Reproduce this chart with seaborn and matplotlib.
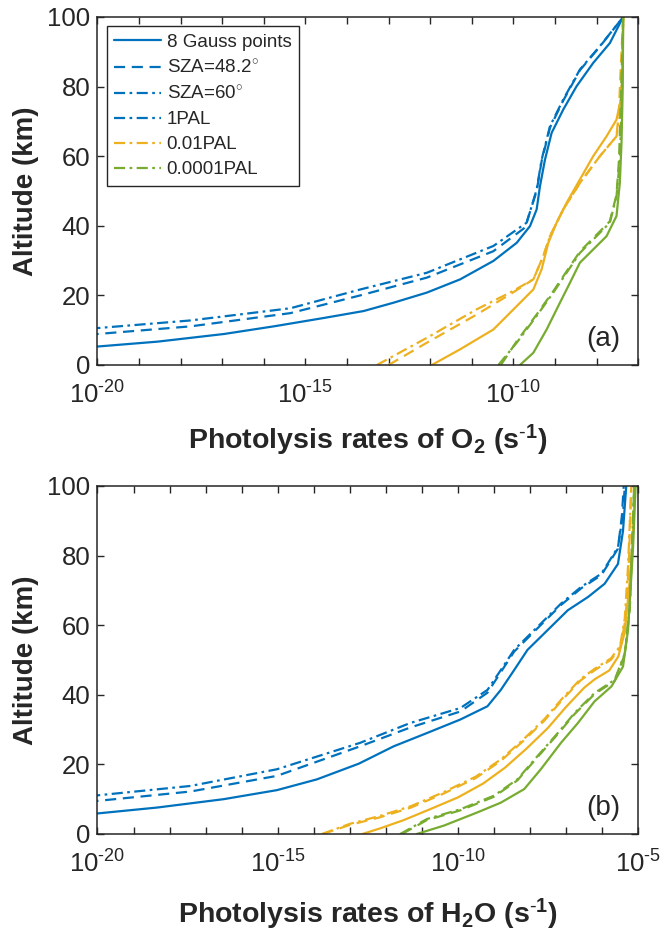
import matplotlib
matplotlib.use("Agg")
import matplotlib.pyplot as plt
import matplotlib.ticker as mticker
from matplotlib.lines import Line2D
from matplotlib.mathtext import MathTextParser
import numpy as np
import pandas as pd
import seaborn as sns

# ---- data: log10 photolysis rate (s^-1) vs altitude (km) ----
# panel (a) O2
o2_1pal_gauss_alt = [0, 5.3, 6.7, 8.9, 11.1, 13.5, 15.5, 17.9, 20.8, 24.6, 29.9, 35.1, 39.9, 44.7, 51.4, 59, 66.7, 73.4, 80.1, 86.8, 92.5, 100]
o2_1pal_gauss_log = [-25, -20, -18.56, -16.96, -15.76, -14.56, -13.6, -12.88, -12.08, -11.28, -10.48, -9.92, -9.6, -9.44, -9.36, -9.24, -9.08, -8.8, -8.48, -8.08, -7.68, -7.36]
o2_1pal_sza48_alt = [0, 8.9, 11.1, 14.9, 20.0, 25.1, 32.7, 39.5, 50.0, 58.6, 68.2, 76.0, 84.7, 91.5, 100]
o2_1pal_sza48_log = [-29, -20, -17.76, -15.36, -13.68, -12.08, -10.48, -9.72, -9.44, -9.32, -9.12, -8.8, -8.4, -7.92, -7.36]
o2_1pal_sza60_alt = [0, 10.6, 12.8, 16.3, 21.7, 26.5, 34.2, 40.9, 50.4, 59, 68.6, 76.3, 84.9, 91.6, 100]
o2_1pal_sza60_log = [-30, -20, -17.76, -15.36, -13.68, -12.08, -10.48, -9.68, -9.44, -9.32, -9.12, -8.8, -8.4, -7.92, -7.36]

o2_001pal_gauss_alt = [0, 4.5, 10.2, 16.9, 21.7, 27.5, 35.1, 40.9, 46.6, 53.3, 60, 65.7, 70.5, 77.2, 88, 100]
o2_001pal_gauss_log = [-11.96, -11.28, -10.48, -9.92, -9.52, -9.32, -9.16, -8.96, -8.72, -8.4, -8.08, -7.76, -7.52, -7.4, -7.37, -7.36]
o2_001pal_sza48_alt = [0, 6.4, 14.5, 20.3, 24.6, 31.3, 37, 44.7, 52.3, 60, 65.7, 73.4, 85, 100]
o2_001pal_sza48_log = [-13.0, -12.08, -10.88, -10.08, -9.52, -9.28, -9.12, -8.8, -8.4, -7.92, -7.52, -7.46, -7.42, -7.36]
o2_001pal_sza60_alt = [0, 7.8, 16, 20.8, 24.6, 31.3, 37, 44.7, 52.3, 60, 65.7, 73.4, 85, 100]
o2_001pal_sza60_log = [-13.28, -12.08, -10.88, -10.08, -9.52, -9.28, -9.12, -8.8, -8.4, -7.92, -7.52, -7.42, -7.38, -7.36]

o2_00001pal_gauss_alt = [0, 3.5, 10.2, 17.9, 23.6, 29.4, 33.2, 37, 42.8, 52.3, 63.8, 80, 100]
o2_00001pal_gauss_log = [-9.84, -9.52, -9.2, -8.88, -8.64, -8.4, -8.08, -7.76, -7.52, -7.44, -7.4, -7.37, -7.36]
o2_00001pal_sza48_alt = [0, 6.8, 14.5, 21.2, 26.9, 32.6, 37.4, 41.3, 48.9, 59, 73.4, 100]
o2_00001pal_sza48_log = [-10.3, -9.92, -9.44, -9.04, -8.72, -8.4, -8.0, -7.68, -7.52, -7.46, -7.42, -7.36]
o2_00001pal_sza60_alt = [0, 6.4, 14.1, 20.8, 26.5, 32.2, 37, 40.9, 48.5, 59, 73.4, 100]
o2_00001pal_sza60_log = [-10.36, -9.92, -9.44, -9.04, -8.72, -8.4, -8.0, -7.68, -7.52, -7.44, -7.4, -7.36]

# panel (b) H2O
h2o_1pal_gauss_alt = [0, 5.9, 7.6, 10, 12.6, 15.7, 20.2, 25.2, 29, 32.9, 36.7, 41.4, 47.1, 52.9, 58.6, 64.3, 68.1, 71.9, 77.6, 87.1, 100]
h2o_1pal_gauss_log = [-26, -20, -18.34, -16.5, -15.02, -13.91, -12.75, -11.78, -10.86, -9.93, -9.18, -8.81, -8.44, -8.07, -7.51, -6.95, -6.39, -5.93, -5.56, -5.42, -5.33]
h2o_1pal_sza48_alt = [0, 9.5, 12.2, 16.7, 25.2, 30.6, 35.2, 40.6, 46.5, 52.4, 58.2, 65.8, 70.6, 74.4, 82, 91.5, 100]
h2o_1pal_sza48_log = [-29, -20, -17.42, -15.02, -12.71, -11.32, -9.93, -9.18, -8.81, -8.44, -7.88, -7.14, -6.58, -6.02, -5.56, -5.45, -5.4]
h2o_1pal_sza60_alt = [0, 11.1, 13.8, 18.6, 26.2, 31.9, 36.2, 41.4, 47.1, 52.9, 58.6, 66.2, 71, 74.8, 82.4, 91.9, 100]
h2o_1pal_sza60_log = [-30, -20, -17.42, -15.02, -12.71, -11.32, -9.93, -9.18, -8.81, -8.44, -7.88, -7.14, -6.58, -6.02, -5.56, -5.42, -5.37]

h2o_001pal_gauss_alt = [0, 1.6, 4, 7, 10.5, 14.5, 19, 24.5, 30.5, 36.5, 42, 44.5, 47, 51, 58, 73, 87, 100]
h2o_001pal_gauss_log = [-12.65, -12.16, -11.5, -10.8, -10.0, -9.3, -8.7, -8.1, -7.5, -7.0, -6.5, -6.2, -5.8, -5.55, -5.37, -5.23, -5.14, -5.09]
h2o_001pal_sza48_alt = [0, 2.6, 4.8, 7.6, 11.6, 16.1, 21.1, 26.6, 32.6, 38.6, 44.1, 47.1, 50.1, 53.6, 61.6, 77, 100]
h2o_001pal_sza48_log = [-13.75, -13.0, -12.16, -11.3, -10.4, -9.5, -8.8, -8.2, -7.6, -7.1, -6.6, -6.2, -5.75, -5.5, -5.35, -5.26, -5.19]
h2o_001pal_sza60_alt = [0, 2.9, 5.2, 8, 12, 16.5, 21.5, 27, 33, 39, 44.5, 47.5, 50.5, 54, 62, 77, 100]
h2o_001pal_sza60_log = [-13.77, -13.0, -12.16, -11.3, -10.4, -9.5, -8.8, -8.2, -7.6, -7.1, -6.6, -6.2, -5.75, -5.5, -5.37, -5.28, -5.19]

h2o_00001pal_gauss_alt = [0, 2.4, 6.2, 9, 12.9, 18.6, 26.2, 31.9, 38.1, 42.4, 48.1, 58.6, 82.4, 100]
h2o_00001pal_gauss_log = [-11.14, -10.39, -9.46, -8.81, -8.16, -7.7, -7.14, -6.67, -6.21, -5.74, -5.42, -5.28, -5.14, -5.07]
h2o_00001pal_sza48_alt = [0, 4.0, 6.8, 10.7, 15.4, 22.1, 28.7, 34.5, 40.2, 44.0, 51.6, 65, 100]
h2o_00001pal_sza48_log = [-11.55, -10.86, -9.93, -9.0, -8.35, -7.79, -7.23, -6.76, -6.21, -5.65, -5.37, -5.23, -5.11]
h2o_00001pal_sza60_alt = [0, 4.3, 7.1, 11, 15.7, 22.4, 29, 34.8, 40.5, 44.3, 51.9, 65.2, 100]
h2o_00001pal_sza60_log = [-11.6, -10.86, -9.93, -9.0, -8.35, -7.79, -7.23, -6.76, -6.21, -5.65, -5.37, -5.23, -5.11]

pal_levels = ["1PAL", "0.01PAL", "0.0001PAL"]
methods = ["8 Gauss points", "SZA=48.2$^{\\circ}$", "SZA=60$^{\\circ}$"]
legend_labels = ["8 Gauss points", "SZA=48.2$^{\\circ}$", "SZA=60$^{\\circ}$", "1PAL", "0.01PAL", "0.0001PAL"]

o2_series = [
    (o2_1pal_gauss_alt, o2_1pal_gauss_log), (o2_1pal_sza48_alt, o2_1pal_sza48_log), (o2_1pal_sza60_alt, o2_1pal_sza60_log),
    (o2_001pal_gauss_alt, o2_001pal_gauss_log), (o2_001pal_sza48_alt, o2_001pal_sza48_log), (o2_001pal_sza60_alt, o2_001pal_sza60_log),
    (o2_00001pal_gauss_alt, o2_00001pal_gauss_log), (o2_00001pal_sza48_alt, o2_00001pal_sza48_log), (o2_00001pal_sza60_alt, o2_00001pal_sza60_log),
]
h2o_series = [
    (h2o_1pal_gauss_alt, h2o_1pal_gauss_log), (h2o_1pal_sza48_alt, h2o_1pal_sza48_log), (h2o_1pal_sza60_alt, h2o_1pal_sza60_log),
    (h2o_001pal_gauss_alt, h2o_001pal_gauss_log), (h2o_001pal_sza48_alt, h2o_001pal_sza48_log), (h2o_001pal_sza60_alt, h2o_001pal_sza60_log),
    (h2o_00001pal_gauss_alt, h2o_00001pal_gauss_log), (h2o_00001pal_sza48_alt, h2o_00001pal_sza48_log), (h2o_00001pal_sza60_alt, h2o_00001pal_sza60_log),
]


def to_frame(series):
    rows = []
    for i, (alt, lg) in enumerate(series):
        pal = pal_levels[i // 3]
        meth = methods[i % 3]
        for a, v in zip(alt, lg):
            rows.append({"alt": a, "rate": 10.0 ** v, "pal": pal, "method": meth})
    return pd.DataFrame(rows)


sns.set_style("ticks")
plt.rcParams["font.family"] = ["Liberation Sans", "DejaVu Sans"]
plt.rcParams["mathtext.fontset"] = "custom"
plt.rcParams["mathtext.rm"] = "Liberation Sans"
plt.rcParams["mathtext.it"] = "Liberation Sans:italic"
plt.rcParams["mathtext.bf"] = "Liberation Sans:bold"
plt.rcParams["axes.unicode_minus"] = False

# short hyphen in exponents (like the MATLAB original) if mathtext knows \text
try:
    MathTextParser("path").parse(r"$10^{\text{-}5}$")
    HY = r"\text{-}"
except Exception:
    HY = "-"

colour_map = {"1PAL": "#0072BD", "0.01PAL": "#EDB120", "0.0001PAL": "#77AC30"}
dash_map = {methods[0]: "", methods[1]: (5, 3), methods[2]: (5, 2, 1.2, 2)}
axis_col = "#262626"

fig = plt.figure(figsize=(6.63, 9.38), dpi=100)
ax_a = fig.add_axes([0.147, 0.6109, 0.8155, 0.371])
ax_b = fig.add_axes([0.147, 0.1109, 0.8155, 0.371])

panels = [
    (ax_a, o2_series, 1e-7, "Photolysis rates of O$_\\mathbf{2}$ (s$^{" + HY + "\\mathbf{1}}$)", "(a)", 10),
    (ax_b, h2o_series, 1e-5, "Photolysis rates of H$_\\mathbf{2}$O (s$^{" + HY + "\\mathbf{1}}$)", "(b)", 14),
]


def fmt(v, pos):
    e = int(round(np.log10(v)))
    if e % 5 != 0:
        return ""
    return "$\\mathregular{10^{" + HY + str(abs(e)) + "}}$"


for ax, series, xmax, xlab, tag, lpad in panels:
    df = to_frame(series)
    ax.set_xscale("log")
    sns.lineplot(
        data=df, x="rate", y="alt", hue="pal", style="method",
        palette=colour_map, dashes=dash_map, hue_order=pal_levels, style_order=methods,
        orient="y", estimator=None, legend=False, linewidth=1.6, ax=ax,
    )
    ax.set_xlim(1e-20, xmax)
    ax.set_ylim(0, 100)
    ax.set_yticks([0, 20, 40, 60, 80, 100])
    ax.xaxis.set_major_locator(mticker.LogLocator(base=10, numticks=40))
    ax.xaxis.set_minor_locator(mticker.NullLocator())
    ax.xaxis.set_major_formatter(mticker.FuncFormatter(fmt))
    ax.tick_params(direction="in", top=True, right=True, length=5, width=1,
                   labelsize=18.5, colors=axis_col)
    ax.tick_params(axis="x", pad=12)
    ax.tick_params(axis="y", pad=5)
    for sp in ax.spines.values():
        sp.set_linewidth(1.1)
        sp.set_color(axis_col)
    ax.set_xlabel(xlab, fontsize=20.5, fontweight="bold", color=axis_col, labelpad=lpad)
    ax.set_ylabel("Altitude (km)", fontsize=20, fontweight="bold", color=axis_col)
    ax.yaxis.set_label_coords(-0.108, 0.5)
    ax.text(0.967, 0.075, tag, transform=ax.transAxes, ha="right", va="center",
            fontsize=20, color=axis_col)

# legend (panel a)
handles = [
    Line2D([0], [0], color=colour_map["1PAL"], lw=1.6),
    Line2D([0], [0], color=colour_map["1PAL"], lw=1.6, dashes=(5, 3)),
    Line2D([0], [0], color=colour_map["1PAL"], lw=1.6, dashes=(5, 2, 1.2, 2)),
    Line2D([0], [0], color=colour_map["1PAL"], lw=1.6, dashes=(5, 2, 1.2, 2)),
    Line2D([0], [0], color=colour_map["0.01PAL"], lw=1.6, dashes=(5, 2, 1.2, 2)),
    Line2D([0], [0], color=colour_map["0.0001PAL"], lw=1.6, dashes=(5, 2, 1.2, 2)),
]
leg = ax_a.legend(handles, legend_labels, loc="upper left", bbox_to_anchor=(0.017, 0.973),
                  fontsize=13.5, frameon=True, fancybox=False, edgecolor=axis_col,
                  framealpha=1, handlelength=2.5, handletextpad=0.3, labelspacing=0.42,
                  borderpad=0.4, borderaxespad=0)
leg.get_frame().set_linewidth(1.0)

fig.savefig("out.png", dpi=100)
